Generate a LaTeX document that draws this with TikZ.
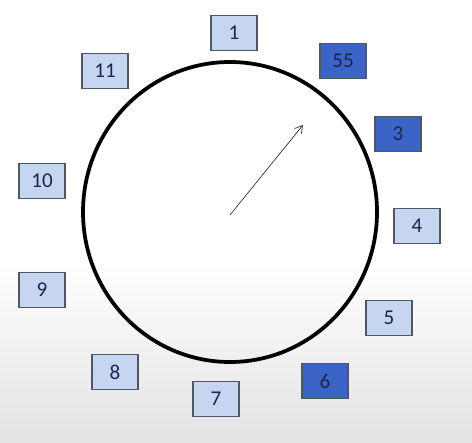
\documentclass[tikz,border=0pt]{standalone}
\usepackage{fontspec}
\setmainfont{Carlito}
\usetikzlibrary{arrows.meta}
\definecolor{slotlight}{HTML}{C6D6F1}
\definecolor{slotdark}{HTML}{3C63C6}
\definecolor{slotedge}{HTML}{505666}
\definecolor{slottext}{HTML}{1A2650}
\tikzset{
  slot/.style={draw=slotedge, line width=0.9pt, fill=slotlight, text=slottext,
    minimum width=1.38cm, minimum height=1.05cm, inner sep=0pt,
    font=\fontsize{18}{20}\selectfont},
  slotfull/.style={slot, fill=slotdark},
  ring/.style={line width=3.2pt, color=black},
  hand/.style={-{Straight Barb[length=2.2mm, width=2.6mm]}, line width=0.6pt, color=black!80}
}

\begin{document}
\begin{tikzpicture}[x=0.03cm, y=-0.03cm]
\useasboundingbox (0,0) rectangle (472,442);
\fill[white] (0,0) rectangle (472,260);
\shade[top color=white, bottom color=black!11] (0,259) rectangle (472,442);

\draw[ring] (230,212) ellipse (147 and 150);

\node[slot] (b1) at (234,33) {1};
\node[slotfull] (b55) at (343,61) {55};
\node[slotfull] (b3) at (398,134) {3};
\node[slot] (b4) at (417,226) {4};
\node[slot] (b5) at (389,318) {5};
\node[slotfull] (b6) at (325,381) {6};
\node[slot] (b7) at (216,399) {7};
\node[slot] (b8) at (115,372) {8};
\node[slot] (b9) at (42,290) {9};
\node[slot] (b10) at (42,181) {10};
\node[slot] (b11) at (105,71) {11};

\coordinate (hub) at (230,215);
\coordinate (tip) at (303,125);
\draw[hand] (hub) -- (tip);
\end{tikzpicture}
\end{document}
